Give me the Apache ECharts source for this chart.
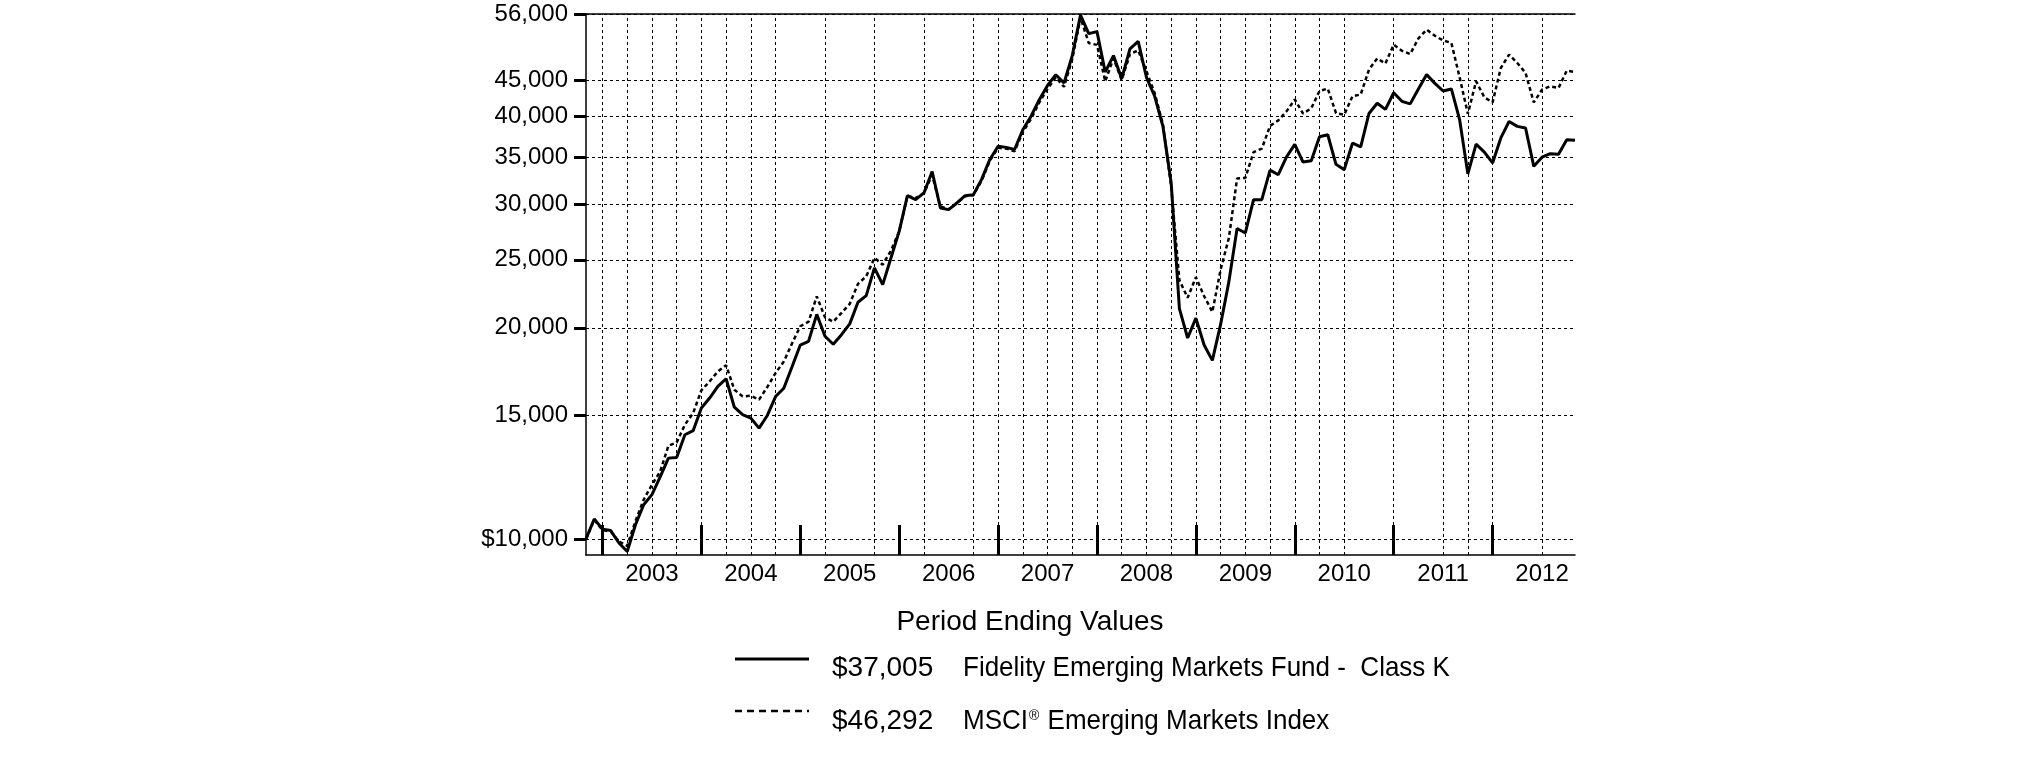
<!DOCTYPE html>
<html><head><meta charset="utf-8">
<script src="https://cdn.jsdelivr.net/npm/echarts@6/dist/echarts.min.js"></script>
<style>html,body{margin:0;padding:0;background:#fff}#c{width:2025px;height:761px}</style>
</head><body><div id="c"></div>
<script>
// Monthly period-ending values, Oct 2002 .. Oct 2012
const startYear = 2002, startMonth = 10;
const fundValues = [
 10000,10680,10330,10280,9870,9600,10480,11190,11570,12260,13040,13070,
 14080,14270,15370,15880,16500,16920,15410,15040,14870,14390,15000,15960,
 16400,17600,18900,19130,20900,19450,18950,19550,20260,21750,22230,24340,
 23040,25150,27440,30850,30450,31130,33400,29630,29470,30120,30850,30950,
 32550,34750,36290,36150,35900,38300,40050,42270,44300,45880,44650,48850,
 55800,52500,52850,46300,48850,45300,49950,51200,45500,42750,38740,32200,
 21300,19340,20640,18900,17970,20220,23250,27700,27300,30450,30450,33550,
 33050,35050,36500,34450,34600,37430,37680,34200,33600,36650,36200,40400,
 41780,40950,43250,42050,41700,43790,45900,44600,43500,43790,39600,33150,
 36530,35600,34350,37290,39350,38730,38530,33970,35000,35410,35350,37080,
 37005];
const indexValues = [
 10000,10650,10300,10250,9920,9780,10600,11380,11950,12480,13580,13730,
 14550,15120,16290,16770,17330,17680,16320,15970,16000,15800,16470,17240,
 17900,19000,20100,20400,22170,20700,20400,21000,21630,23100,23680,25150,
 24600,25750,27440,30850,30600,31100,33000,29800,29500,30100,30800,30900,
 32400,34600,36100,36000,35700,38000,39700,41900,43800,45500,44100,48300,
 55300,50900,50600,44900,48400,45100,49100,49700,46400,43200,39000,31800,
 23380,22070,23600,22190,21070,24200,26840,32650,32700,35600,36000,38800,
 39500,40700,42300,40400,41100,43500,43850,40450,40240,42760,43000,46660,
 48400,47600,50640,49630,49090,51690,53200,52140,51340,50930,45500,40360,
 44900,42600,41900,46910,49010,47690,46160,41900,43690,44170,43930,46500,
 46292];
const yTickValues = [10000,15000,20000,25000,30000,35000,40000,45000,56000];
const gridMonthIdx = [2,5,8,11,14,17,20,23,29,35,41,47,50,53,56,59,62,65,68,71,74,77,80,83,86,89,92,98,104,107,110,116];
const fundName = 'Fidelity Emerging Markets Fund -  Class K';
const indexName = 'MSCI® Emerging Markets Index';
const legendTitle = 'Period Ending Values';

const months = [];
for (let k = 0; k < fundValues.length; k++) {
  const m = (startMonth - 1 + k) % 12 + 1;
  const y = startYear + Math.floor((startMonth - 1 + k) / 12);
  months.push(y + '-' + String(m).padStart(2, '0'));
}
const FONT = '"Liberation Sans", Arial, sans-serif';
const fmt = v => Math.round(v).toLocaleString('en-US');
const gridStyle = {color: '#000', width: 1, type: [3, 3]};

const chart = echarts.init(document.getElementById('c'), null, {renderer: 'canvas'});
chart.setOption({
  animation: false,
  backgroundColor: '#fff',
  grid: {left: 586, right: 450, top: 14, bottom: 206, containLabel: false},
  xAxis: [{
    type: 'category', data: months, boundaryGap: false,
    axisLine: {show: true, lineStyle: {color: '#000', width: 1.5}},
    axisTick: {show: true, inside: true, length: 30, interval: (i, v) => v.endsWith('-12'),
      lineStyle: {color: '#000', width: 3}},
    axisLabel: {show: true, interval: (i, v) => v.endsWith('-06'), formatter: v => v.slice(0, 4),
      color: '#000', fontFamily: FONT, fontSize: 24, margin: 7},
    splitLine: {show: false}
  }, {
    type: 'category', data: months, boundaryGap: false, position: 'top',
    axisLine: {show: true, lineStyle: {color: '#000', width: 1.5}},
    axisTick: {show: false}, axisLabel: {show: false}, splitLine: {show: false}
  }],
  yAxis: {
    type: 'log', logBase: 10, min: 9489, max: 56000,
    axisLine: {show: true, lineStyle: {color: '#000', width: 1.5}},
    axisTick: {show: true, customValues: yTickValues, length: 12, lineStyle: {color: '#000', width: 3}},
    axisLabel: {show: true, customValues: yTickValues, color: '#000', fontFamily: FONT, fontSize: 24, margin: 18,
      formatter: v => (Math.round(v) === 10000 ? '$' : '') + fmt(v)},
    splitLine: {show: true, lineStyle: gridStyle}
  },
  series: [{
    name: 'grid', type: 'line', data: fundValues, showSymbol: false, symbol: 'none', silent: true,
    lineStyle: {width: 0, opacity: 0}, z: 1,
    markLine: {silent: true, symbol: ['none', 'none'], label: {show: false}, lineStyle: gridStyle,
      emphasis: {disabled: true},
      data: gridMonthIdx.map(i => ({xAxis: months[i]}))}
  }, {
    name: indexName, type: 'line', data: indexValues, showSymbol: false, symbol: 'none',
    lineStyle: {color: '#000', width: 2.5, type: [4, 3]}, z: 3
  }, {
    name: fundName, type: 'line', data: fundValues, showSymbol: false, symbol: 'none',
    lineStyle: {color: '#000', width: 3}, z: 4
  }],
  graphic: [
    {type: 'text', x: 1030, y: 622, style: {text: legendTitle, fill: '#000', font: '28px ' + FONT, align: 'center', verticalAlign: 'middle'}},
    {type: 'line', shape: {x1: 735, y1: 659, x2: 809, y2: 659}, style: {stroke: '#000', lineWidth: 3}},
    {type: 'text', x: 832, y: 668, style: {text: '$' + fmt(fundValues[fundValues.length - 1]), fill: '#000', font: '28px ' + FONT, verticalAlign: 'middle'}},
    {type: 'text', x: 963, y: 668, scaleY: 1.08, style: {text: fundName, fill: '#000', font: '26px ' + FONT, verticalAlign: 'middle'}},
    {type: 'line', shape: {x1: 735, y1: 711, x2: 809, y2: 711}, style: {stroke: '#000', lineWidth: 2.5, lineDash: [7, 5]}},
    {type: 'text', x: 832, y: 721, style: {text: '$' + fmt(indexValues[indexValues.length - 1]), fill: '#000', font: '28px ' + FONT, verticalAlign: 'middle'}},
    {type: 'text', x: 963, y: 721, scaleY: 1.08, style: {
      text: '{a|MSCI}{s|®}{a| Emerging Markets Index}', verticalAlign: 'middle',
      rich: {a: {fill: '#000', fontSize: 26, fontFamily: FONT}, s: {fill: '#000', fontSize: 14, fontFamily: FONT, padding: [0, 1, 10, 1]}}
    }}
  ]
});
</script></body></html>
